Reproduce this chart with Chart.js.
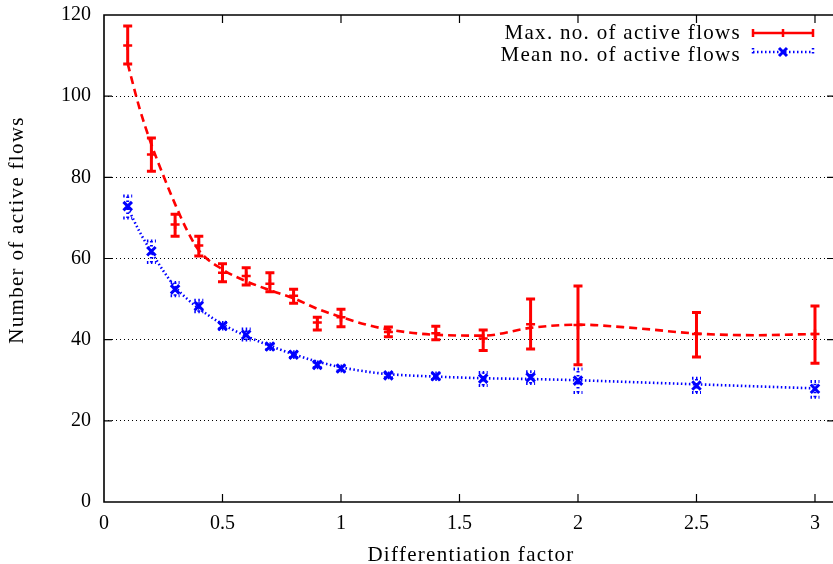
<!DOCTYPE html>
<html>
<head>
<meta charset="utf-8">
<title>Active flows vs differentiation factor</title>
<script src="https://cdn.jsdelivr.net/npm/chart.js@4/dist/chart.umd.min.js"></script>
<style>
  html, body { margin: 0; padding: 0; background: #fff; }
  canvas { display: block; }
</style>
</head>
<body>
<canvas id="chart" width="833" height="564"></canvas>
<script>
// measured points (differentiation factor on x)
const factors = [0.1, 0.2, 0.3, 0.4, 0.5, 0.6, 0.7, 0.8, 0.9, 1.0, 1.2, 1.4, 1.6, 1.8, 2.0, 2.5, 3.0];

const maxFlows = [112.5, 85.6, 68.4, 63.2, 56.5, 55.7, 53.8, 50.8, 44.2, 45.5, 41.9, 41.6, 40.3, 43.8, 43.6, 41.4, 41.4];
const maxLow   = [107.9, 81.5, 65.5, 60.6, 54.3, 53.5, 51.8, 49.0, 42.4, 43.2, 40.7, 40.0, 37.3, 37.7, 33.8, 35.7, 34.2];
const maxHigh  = [117.3, 89.7, 70.9, 65.5, 58.7, 57.7, 56.5, 52.4, 45.5, 47.5, 43.1, 43.3, 42.4, 50.0, 53.2, 46.7, 48.3];

const meanFlows = [72.9, 61.8, 52.4, 48.3, 43.4, 41.2, 38.3, 36.3, 33.8, 32.9, 31.2, 31.0, 30.4, 30.7, 29.9, 28.7, 27.9];
const meanLow   = [70.0, 59.0, 50.8, 46.9, 42.6, 39.9, 37.6, 35.6, 33.1, 32.3, 30.6, 30.2, 28.7, 29.2, 27.0, 27.0, 25.8];
const meanHigh  = [75.4, 64.3, 54.1, 49.7, 44.2, 42.6, 39.0, 37.0, 34.5, 33.5, 31.8, 31.8, 31.9, 32.1, 32.8, 30.5, 29.7];

// smoothed trend lines
const curveX    = [0.1, 0.15, 0.2, 0.25, 0.3, 0.35, 0.4, 0.5, 0.6, 0.7, 0.8, 0.9, 1.0, 1.1, 1.2, 1.4, 1.6, 1.8, 2.0, 2.25, 2.5, 2.75, 3.0];
const maxCurve  = [108, 97, 88.1, 80.5, 73.4, 67.0, 62.0, 57.3, 54.4, 52.2, 50.2, 47.6, 45.6, 43.8, 42.5, 41.2, 41.0, 42.9, 43.7, 42.8, 41.5, 41.1, 41.4];
const meanCurve = [72.5, 66.6, 61.6, 57.0, 53.0, 50.1, 47.7, 43.8, 40.9, 38.5, 36.4, 34.6, 33.2, 32.2, 31.5, 30.9, 30.5, 30.3, 30.0, 29.5, 29.0, 28.5, 28.0];

const xTicks = [0, 0.5, 1, 1.5, 2, 2.5, 3];
const yTicks = [0, 20, 40, 60, 80, 100, 120];

const maxLabel = 'Max. no. of active flows';
const meanLabel = 'Mean no. of active flows';
const xTitle = 'Differentiation factor';
const yTitle = 'Number of active flows';

const RED = '#ff0000';
const BLUE = '#0000ff';
const SERIF = '"Liberation Serif", "Times New Roman", serif';
const RED_DASH = [8, 5];
const BLUE_DOT = [1.5, 2.5];

function toPoints(xs, ys) {
    return xs.map((x, i) => ({ x: x, y: ys[i] }));
}

// fixed axis boxes, no extra room for overhanging labels
function fixBox(size) {
    return s => {
        if (s.isHorizontal()) s.height = size; else s.width = size;
        s.paddingTop = s.paddingBottom = s.paddingLeft = s.paddingRight = 0;
    };
}

function errorBar(ctx, x, y1, y2, color, dash) {
    ctx.save();
    ctx.strokeStyle = color;
    ctx.lineWidth = 3;
    ctx.setLineDash(dash);
    ctx.beginPath();
    ctx.moveTo(x, y1);
    ctx.lineTo(x, y2);
    ctx.moveTo(x - 4.5, y1);
    ctx.lineTo(x + 4.5, y1);
    ctx.moveTo(x - 4.5, y2);
    ctx.lineTo(x + 4.5, y2);
    ctx.stroke();
    ctx.restore();
}

const errorBars = {
    id: 'errorBars',
    beforeDatasetsDraw(chart) {
        const { ctx, scales: { x, y } } = chart;
        factors.forEach((f, i) => {
            errorBar(ctx, x.getPixelForValue(f), y.getPixelForValue(maxLow[i]), y.getPixelForValue(maxHigh[i]), RED, []);
            errorBar(ctx, x.getPixelForValue(f), y.getPixelForValue(meanLow[i]), y.getPixelForValue(meanHigh[i]), BLUE, BLUE_DOT);
        });
    }
};

// gnuplot-ish frame: borders, inward ticks, titles, legend
const frame = {
    id: 'frame',
    afterDraw(chart) {
        const { ctx, chartArea: a, scales: { x, y } } = chart;
        ctx.save();
        ctx.strokeStyle = '#000';
        ctx.lineWidth = 1.6;
        ctx.beginPath();
        ctx.moveTo(a.right, a.top);
        ctx.lineTo(a.left, a.top);
        ctx.lineTo(a.left, a.bottom);
        ctx.lineTo(a.right, a.bottom);
        ctx.stroke();

        ctx.lineWidth = 1.2;
        ctx.beginPath();
        xTicks.forEach(v => {
            if (v === 0) return;
            const px = x.getPixelForValue(v);
            ctx.moveTo(px, a.bottom);
            ctx.lineTo(px, a.bottom - 8);
            ctx.moveTo(px, a.top);
            ctx.lineTo(px, a.top + 8);
        });
        yTicks.forEach(v => {
            if (v === 0 || v === 120) return;
            const py = y.getPixelForValue(v);
            ctx.moveTo(a.left, py);
            ctx.lineTo(a.left + 8, py);
            ctx.moveTo(a.right - 6, py);
            ctx.lineTo(a.right, py);
        });
        ctx.stroke();

        ctx.fillStyle = '#000';
        ctx.font = '21px ' + SERIF;
        ctx.letterSpacing = '1.3px';
        ctx.textBaseline = 'alphabetic';

        ctx.save();
        ctx.translate(23, 230);
        ctx.rotate(-Math.PI / 2);
        ctx.textAlign = 'center';
        ctx.fillText(yTitle, 0, 0);
        ctx.restore();

        ctx.textAlign = 'center';
        ctx.fillText(xTitle, 471, 561);

        // legend
        ctx.textAlign = 'right';
        ctx.fillText(maxLabel, 741, 39);
        ctx.fillText(meanLabel, 741, 60.5);

        ctx.strokeStyle = RED;
        ctx.lineWidth = 2.5;
        ctx.beginPath();
        ctx.moveTo(753, 33);
        ctx.lineTo(813, 33);
        [753, 783, 813].forEach(px => {
            ctx.moveTo(px, 29);
            ctx.lineTo(px, 37);
        });
        ctx.stroke();

        ctx.strokeStyle = BLUE;
        ctx.setLineDash(BLUE_DOT);
        ctx.beginPath();
        ctx.moveTo(753, 52);
        ctx.lineTo(813, 52);
        [753, 813].forEach(px => {
            ctx.moveTo(px, 48);
            ctx.lineTo(px, 56);
        });
        ctx.stroke();
        ctx.setLineDash([]);
        ctx.lineWidth = 3;
        ctx.beginPath();
        ctx.moveTo(779, 48);
        ctx.lineTo(787, 56);
        ctx.moveTo(787, 48);
        ctx.lineTo(779, 56);
        ctx.stroke();
        ctx.restore();
    }
};

const whiteBg = {
    id: 'whiteBg',
    beforeDraw(chart) {
        const ctx = chart.ctx;
        ctx.save();
        ctx.fillStyle = '#fff';
        ctx.fillRect(0, 0, chart.width, chart.height);
        ctx.restore();
    }
};

new Chart(document.getElementById('chart'), {
    type: 'scatter',
    data: {
        datasets: [
            {
                label: maxLabel,
                data: toPoints(curveX, maxCurve),
                showLine: true,
                borderColor: RED,
                borderWidth: 2.6,
                borderDash: RED_DASH,
                cubicInterpolationMode: 'monotone',
                pointRadius: 0
            },
            {
                label: meanLabel,
                data: toPoints(curveX, meanCurve),
                showLine: true,
                borderColor: BLUE,
                borderWidth: 2.6,
                borderDash: BLUE_DOT,
                cubicInterpolationMode: 'monotone',
                pointRadius: 0
            },
            {
                label: maxLabel,
                data: toPoints(factors, maxFlows),
                showLine: false,
                pointStyle: 'cross',
                pointRadius: 4.5,
                borderColor: RED,
                borderWidth: 2.5
            },
            {
                label: meanLabel,
                data: toPoints(factors, meanFlows),
                showLine: false,
                pointStyle: 'crossRot',
                pointRadius: 6,
                borderColor: BLUE,
                borderWidth: 3
            }
        ]
    },
    options: {
        responsive: false,
        animation: false,
        layout: { autoPadding: false, padding: { top: 15, right: 0, left: 0, bottom: 0 } },
        plugins: {
            legend: { display: false },
            tooltip: { enabled: false }
        },
        scales: {
            x: {
                type: 'linear',
                min: 0,
                max: 3.076,
                afterFit: fixBox(62),
                grid: { display: false, drawTicks: false },
                border: { display: false },
                ticks: {
                    stepSize: 0.5,
                    includeBounds: false,
                    padding: 10,
                    color: '#000',
                    font: { family: SERIF, size: 20 },
                    maxRotation: 0,
                    callback: v => String(v)
                }
            },
            y: {
                min: 0,
                max: 120,
                afterFit: fixBox(104),
                grid: {
                    drawTicks: false,
                    lineWidth: 1,
                    color: c => (c.tick.value === 0 || c.tick.value === 120) ? 'rgba(0,0,0,0)' : '#000'
                },
                border: { display: false, dash: [1, 3] },
                ticks: {
                    stepSize: 20,
                    padding: 13,
                    color: '#000',
                    font: { family: SERIF, size: 20 }
                }
            }
        }
    },
    plugins: [whiteBg, errorBars, frame]
});
</script>
</body>
</html>
